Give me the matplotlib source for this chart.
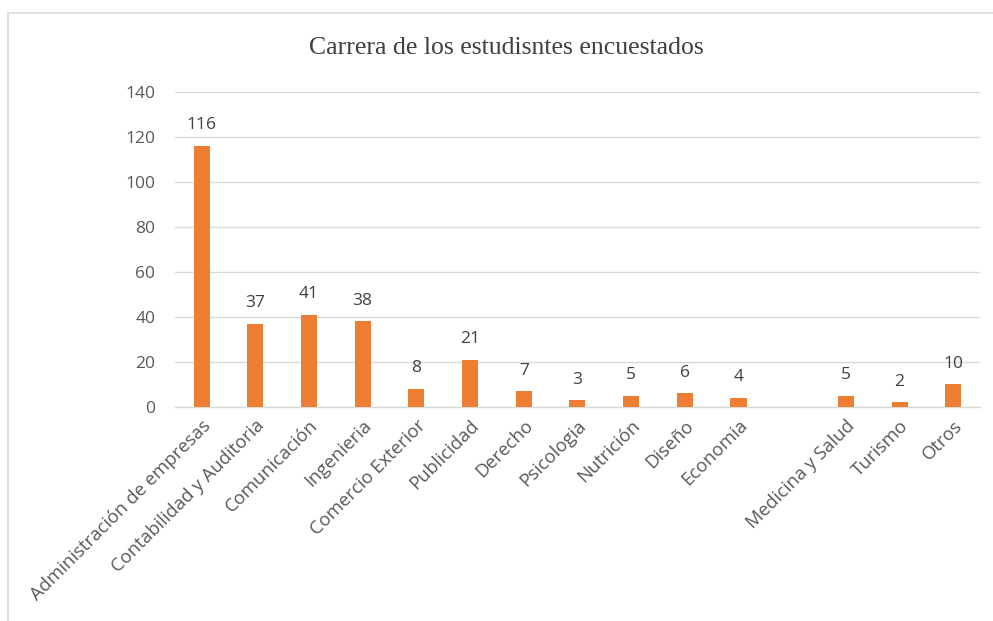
import numpy as np
import matplotlib
matplotlib.use("Agg")
import matplotlib.pyplot as plt
from matplotlib.patches import Rectangle

categories = ["Administración de empresas", "Contabilidad y Auditoria", "Comunicación",
              "Ingenieria", "Comercio Exterior", "Publicidad", "Derecho", "Psicologia",
              "Nutrición", "Diseño", "Economia", "", "Medicina y Salud", "Turismo", "Otros"]
values = [116, 37, 41, 38, 8, 21, 7, 3, 5, 6, 4, np.nan, 5, 2, 10]
yticks = [0, 20, 40, 60, 80, 100, 120, 140]
title = "Carrera de los estudisntes encuestados"

fig = plt.figure(figsize=(9.93, 6.21), dpi=100)
ax = fig.add_axes([0.176, 0.345, 0.811, 0.507])

# chart frame (partially cropped)
fig.patches.append(Rectangle((8/993, 0 - 0.01), 1.1, 1 - 13/621 + 0.01,
                             transform=fig.transFigure, fill=False,
                             edgecolor="#D9D9D9", linewidth=1.2, zorder=0))

x = np.arange(len(categories))
ax.bar(x, values, width=0.3, color="#ED7D31", zorder=3)
for xi, v in zip(x, values):
    if not np.isnan(v):
        ax.annotate(f"{int(v)}", (xi, v), xytext=(0, 9), textcoords="offset points",
                    ha="center", va="bottom", fontsize=12.5, color="#404040",
                    family="Open Sans")

ax.set_xlim(-0.5, len(categories) - 0.5)
ax.set_ylim(0, 140)
ax.set_yticks(yticks)
ax.set_yticklabels([str(t) for t in yticks], fontsize=12.5, color="#595959", family="Open Sans")
ax.yaxis.grid(True, color="#D9D9D9", linewidth=1)
ax.set_axisbelow(True)
ax.tick_params(axis="both", length=0)
ax.tick_params(axis="y", pad=14)
ax.set_xticks(x)
ax.set_xticklabels(categories, rotation=45, ha="right", va="top", rotation_mode="anchor",
                   fontsize=13.3, color="#595959", family="Open Sans")
ax.tick_params(axis="x", pad=7)
for s in ["top", "right", "left"]:
    ax.spines[s].set_visible(False)
ax.spines["bottom"].set_color("#D9D9D9")
ax.spines["bottom"].set_linewidth(1)

fig.text(0.51, 1 - 48/621, title, ha="center", va="center",
         fontsize=18.5, color="#404040", family="Liberation Serif")

fig.savefig("out.png", dpi=100, facecolor="white")
